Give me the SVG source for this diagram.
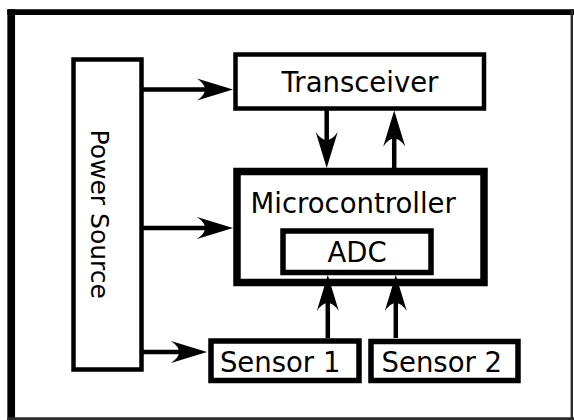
<svg xmlns="http://www.w3.org/2000/svg" width="574" height="420" viewBox="0 0 574 420">
  <style>
    .box { fill: #ffffff; stroke: #000000; stroke-width: 4.5; }
    .thick { stroke-width: 7.5; }
    .label { font-family: "DejaVu Sans", "Liberation Sans", sans-serif; font-size: 27.5px; fill: #000000; }
    .wire { stroke: #000000; stroke-width: 4.5; fill: none; marker-end: url(#head); }
  </style>
  <defs>
    <!-- swept arrowhead; line ends 20px short of the tip -->
    <marker id="head" markerUnits="userSpaceOnUse" viewBox="-18 -12 40 24" refX="0" refY="0" markerWidth="40" markerHeight="24" orient="auto" overflow="visible">
      <path d="M20,0 L-16,-11 Q0,0 -16,11 Z" fill="#000000"/>
    </marker>
  </defs>

  <rect width="574" height="420" fill="#ffffff"/>

  <!-- outer frame -->
  <g id="frame">
    <line x1="11.2" y1="9.3" x2="11.2" y2="420" stroke="#000" stroke-width="7.7"/>
    <line x1="7.3" y1="12.2" x2="574" y2="12.2" stroke="#000" stroke-width="5.7"/>
    <line x1="571.8" y1="9.3" x2="571.8" y2="420" stroke="#2a2a2a" stroke-width="2.4"/>
    <line x1="7.3" y1="418.6" x2="574" y2="418.6" stroke="#2a2a2a" stroke-width="2.8"/>
  </g>

  <g id="power-source">
    <rect class="box" x="73.5" y="59.5" width="68" height="310"/>
    <text class="label" transform="translate(91,129.5) rotate(90)" style="font-size:25px">Power Source</text>
  </g>

  <g id="transceiver">
    <rect class="box" x="235.5" y="54.5" width="248.5" height="54"/>
    <text class="label" x="360" y="92" text-anchor="middle">Transceiver</text>
  </g>

  <g id="microcontroller">
    <rect class="box thick" x="237" y="171.5" width="247" height="111"/>
    <text class="label" x="250.6" y="212.5">Microcontroller</text>
  </g>

  <g id="adc">
    <rect class="box" x="283" y="231" width="148" height="41.5" style="stroke-width:5.5"/>
    <text class="label" x="357" y="261.5" text-anchor="middle">ADC</text>
  </g>

  <g id="sensor-1">
    <rect class="box" x="211" y="341" width="148" height="39.5" style="stroke-width:5.5"/>
    <text class="label" x="219.9" y="371.5">Sensor 1</text>
  </g>

  <g id="sensor-2">
    <rect class="box" x="371" y="341.5" width="147" height="39" style="stroke-width:5.5"/>
    <text class="label" x="381.5" y="371.5">Sensor 2</text>
  </g>

  <g id="connectors">
    <line class="wire" x1="143" y1="89.5" x2="213" y2="89.5"/>
    <line class="wire" x1="143" y1="228" x2="213" y2="228"/>
    <line class="wire" x1="143" y1="352" x2="187" y2="352"/>
    <line class="wire" x1="326.7" y1="110" x2="326.7" y2="148"/>
    <line class="wire" x1="394.2" y1="168" x2="394.2" y2="130.5"/>
    <line class="wire" x1="327.8" y1="338" x2="327.8" y2="295"/>
    <line class="wire" x1="395.8" y1="338" x2="395.8" y2="295"/>
  </g>
</svg>
